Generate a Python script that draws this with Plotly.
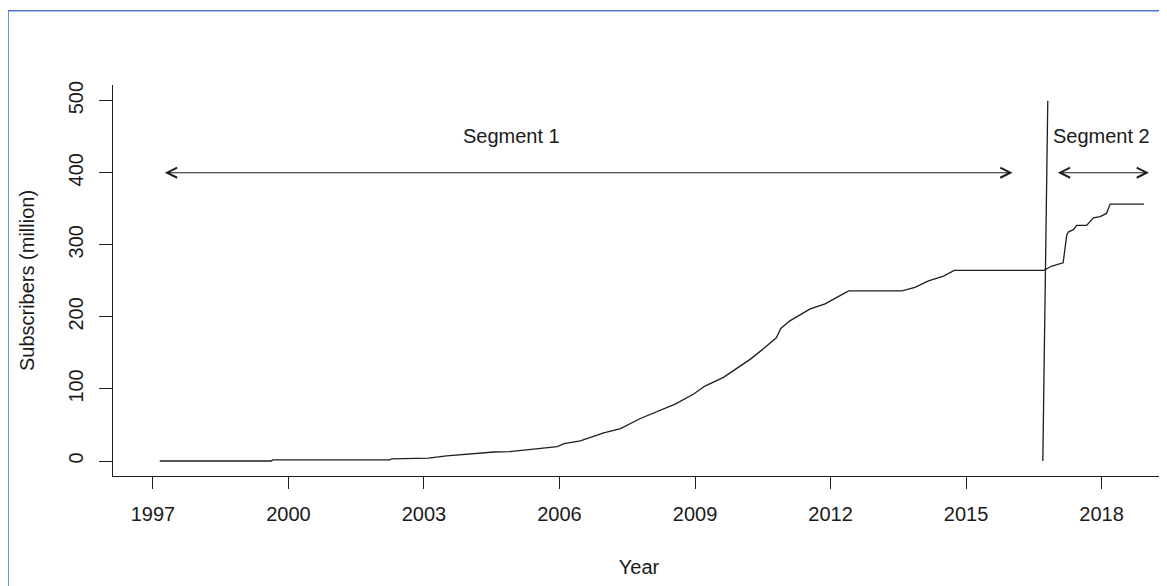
import plotly.graph_objects as go

# ---- data ----
seg1_years = [1997.15, 1999.62, 1999.65, 2002.25, 2002.28, 2003.1, 2003.5, 2004.1, 2004.55, 2004.9,
              2005.25, 2005.6, 2005.95, 2006.1, 2006.46, 2006.98, 2007.35, 2007.79, 2008.16, 2008.56,
              2008.97, 2009.22, 2009.63, 2009.93, 2010.22, 2010.52, 2010.8, 2010.9, 2011.1, 2011.55,
              2011.88, 2012.14, 2012.4, 2013.58, 2013.87, 2014.17, 2014.5, 2014.74, 2016.72]
seg1_values = [0, 0, 1.5, 1.5, 3, 4, 7, 10, 12.5, 13,
               15.5, 17.5, 20, 24, 28, 39, 45, 59, 69, 79,
               93, 104, 116, 128.5, 141, 156, 171, 184, 194.5, 211,
               218, 227, 236, 236, 241, 250, 256.5, 264.5, 264.5]

seg2_years = [2016.72, 2016.9, 2017.15, 2017.23, 2017.27, 2017.38, 2017.45, 2017.67, 2017.82,
              2017.97, 2018.11, 2018.19, 2018.94]
seg2_values = [265, 270.5, 275, 313.5, 318, 321, 327, 327, 337.5,
               339, 343.5, 356.5, 356.5]

break_years = [2016.70, 2016.81]
break_values = [0, 500]

x_ticks = [1997, 2000, 2003, 2006, 2009, 2012, 2015, 2018]
y_ticks = [0, 100, 200, 300, 400, 500]

arrow_labels = ["Segment 1", "Segment 2"]
arrow_start = [1997.23, 2017.0]
arrow_end = [2016.03, 2019.05]
arrow_level = [400, 400]
label_x = [2004.93, 2018.0]
label_y = [451, 451]

# ---- figure ----
LINE = "#1e1e1e"
FONT = "Liberation Sans, Arial, sans-serif"

fig = go.Figure()
fig.add_trace(go.Scatter(x=seg1_years + seg2_years[1:], y=seg1_values + seg2_values[1:],
                         mode="lines", line=dict(color=LINE, width=1.3), showlegend=False,
                         hoverinfo="skip"))
fig.add_trace(go.Scatter(x=break_years, y=break_values, mode="lines",
                         line=dict(color=LINE, width=1.3), showlegend=False, hoverinfo="skip"))

annotations = []
for lab, xs, xe, lv, lx, ly in zip(arrow_labels, arrow_start, arrow_end, arrow_level, label_x, label_y):
    annotations.append(dict(x=xe, y=lv, ax=xs, ay=lv, xref="x", yref="y", axref="x", ayref="y",
                            showarrow=True, arrowhead=5, startarrowhead=5, arrowside="end+start",
                            arrowsize=1.8, startarrowsize=1.8, arrowwidth=1.1, arrowcolor=LINE,
                            text=""))
    annotations.append(dict(x=lx, y=ly, xref="x", yref="y", text=lab, showarrow=False,
                            font=dict(family=FONT, size=20, color="#1a1a1a")))

fig.update_layout(
    width=1159, height=578,
    margin=dict(l=105, r=2, t=77, b=110),
    paper_bgcolor="white", plot_bgcolor="white",
    font=dict(family=FONT, size=20, color="#1a1a1a"),
    annotations=annotations,
    shapes=[dict(type="rect", xref="paper", yref="paper", x0=-0.0998, x1=1.2, y0=-0.6, y1=1.19,
                 line=dict(color="#4a78d0", width=1.6), fillcolor="rgba(0,0,0,0)", layer="below")],
    xaxis=dict(range=[1996.115, 2019.405], tickvals=x_ticks, ticktext=[str(t) for t in x_ticks],
               showgrid=False, zeroline=False, showline=True, linecolor=LINE, linewidth=1.3,
               ticks="outside", ticklen=12, tickwidth=1.3, tickcolor=LINE,
               ticklabelstandoff=8,
               title=dict(text="Year", standoff=35, font=dict(size=20))),
    yaxis=dict(range=[-20.8, 521.7], tickvals=y_ticks, ticktext=[str(t) for t in y_ticks],
               tickangle=-90,
               showgrid=False, zeroline=False, showline=True, linecolor=LINE, linewidth=1.3,
               ticks="outside", ticklen=13, tickwidth=1.3, tickcolor=LINE,
               ticklabelstandoff=8,
               title=dict(text="Subscribers (million)", standoff=24, font=dict(size=20))),
)

fig.write_html("out.html")
